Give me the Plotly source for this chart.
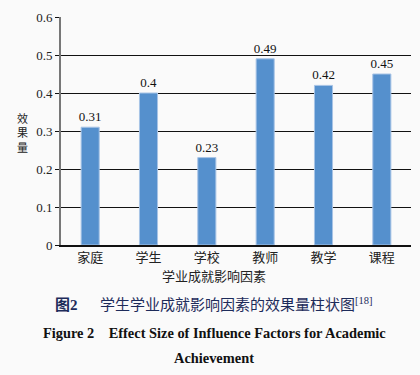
import plotly.graph_objects as go

categories = ["家庭", "学生", "学校", "教师", "教学", "课程"]
values = [0.31, 0.40, 0.23, 0.49, 0.42, 0.45]
value_labels = ["0.31", "0.4", "0.23", "0.49", "0.42", "0.45"]
y_ticks = [0, 0.1, 0.2, 0.3, 0.4, 0.5, 0.6]
y_tick_labels = ["0", "0.1", "0.2", "0.3", "0.4", "0.5", "0.6"]

SERIF = "Liberation Serif, Times New Roman, serif"
CJK = "Liberation Serif, Noto Sans CJK SC, serif"

L, R, T, B = 61, 9, 17, 130
W, H = 420, 375
pw, ph = W - L - R, H - T - B

def px(x):
    return (x - L) / pw

def py(y):
    return (H - B - y) / ph

fig = go.Figure()
fig.add_trace(go.Bar(
    x=categories, y=values, width=0.31,
    marker=dict(color="#5590cd", line=dict(color="#a8c4e6", width=1)),
    text=value_labels, textposition="outside", cliponaxis=False,
    constraintext="none",
    textfont=dict(family=SERIF, size=13, color="#111"),
))

ann = [
    dict(text="效<br>果<br>量", x=px(22), y=py(133), xref="paper", yref="paper",
         showarrow=False, font=dict(family=CJK, size=11, color="#222"),
         xanchor="center", yanchor="middle"),
    dict(text="学业成就影响因素", x=px(214), y=py(276), xref="paper", yref="paper",
         showarrow=False, font=dict(family=CJK, size=13, color="#222"),
         xanchor="center", yanchor="middle"),
    dict(text="<b>图2</b>　  学生学业成就影响因素的效果量柱状图<sup>[18]</sup>",
         x=px(214), y=py(304), xref="paper", yref="paper",
         showarrow=False, font=dict(family=CJK, size=15, color="#1d2b5a"),
         xanchor="center", yanchor="middle"),
    dict(text="<b>Figure 2    Effect Size of Influence Factors for Academic</b>",
         x=px(214), y=py(333), xref="paper", yref="paper",
         showarrow=False, font=dict(family=SERIF, size=14.4, color="#111"),
         xanchor="center", yanchor="middle"),
    dict(text="<b>Achievement</b>",
         x=px(214), y=py(358), xref="paper", yref="paper",
         showarrow=False, font=dict(family=SERIF, size=14.4, color="#111"),
         xanchor="center", yanchor="middle"),
]

fig.update_layout(
    width=W, height=H, autosize=False,
    margin=dict(l=L, r=R, t=T, b=B, autoexpand=False),
    paper_bgcolor="#fafafa", plot_bgcolor="#fafafa",
    showlegend=False,
    xaxis=dict(
        automargin=False,
        showline=True, linecolor="#111", linewidth=1.5,
        ticks="", tickfont=dict(family=CJK, size=13, color="#222"),
        showgrid=False,
    ),
    yaxis=dict(
        automargin=False,
        range=[0, 0.6], tickvals=y_ticks, ticktext=y_tick_labels,
        showline=True, linecolor="#777", linewidth=2,
        ticks="outside", ticklen=4, tickcolor="#111",
        showgrid=True, gridcolor="#111", gridwidth=1,
        zeroline=False,
        tickfont=dict(family=SERIF, size=13, color="#222"),
    ),
    annotations=ann,
)

fig.write_html(
    "out.html",
    config={"displayModeBar": False},
    post_script="document.body.style.margin='0';document.body.style.background='#fafafa';",
)
